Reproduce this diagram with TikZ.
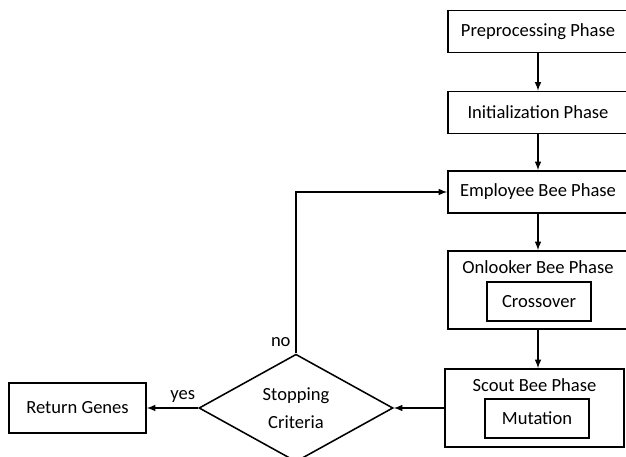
\documentclass[tikz,border=0pt]{standalone}
\usepackage{fontspec}
\setmainfont{Carlito}
\usetikzlibrary{shapes.geometric, arrows}
\tikzstyle{phase} = [rectangle, minimum width=4.5cm, minimum height=1.05cm, text centered, draw=black, line width=1.1pt]
\tikzstyle{bigphase} = [rectangle, minimum width=4.5cm, minimum height=1.95cm, draw=black, line width=1.1pt]
\tikzstyle{operator} = [rectangle, minimum width=2.6cm, minimum height=0.975cm, text centered, draw=black, line width=1.1pt]
\tikzstyle{decision} = [diamond, minimum width=4.85cm, minimum height=2.35cm, inner sep=0pt, align=center, draw=black, line width=1.1pt]
\tikzstyle{result} = [rectangle, minimum width=3.425cm, minimum height=1.25cm, text centered, draw=black, line width=1.1pt]
\tikzstyle{arrow} = [line width=1.1pt,->,>=latex]

\begin{document}
\begin{tikzpicture}[x=0.025cm, y=-0.025cm, font=\fontsize{13.2}{20}\selectfont]
    \useasboundingbox (0,0) rectangle (626,457);

    % Nodes
    \node (preproc) [phase] at (538,31.5) {Preprocessing Phase};
    \node (init) [phase] at (538,112.5) {Initialization Phase};
    \node (employee) [phase] at (538,192) {Employee Bee Phase};
    \node (onlooker) [bigphase] at (538,290) {};
    \node (onlookertitle) at (538,267) {Onlooker Bee Phase};
    \node (crossover) [operator] at (539,301.5) {Crossover};
    \node (scout) [bigphase, minimum width=4.475cm] at (534.5,408) {};
    \node (scouttitle) at (534.5,385) {Scout Bee Phase};
    \node (mutation) [operator] at (537,418.5) {Mutation};
    \node (stopping) [decision] at (296,408) {Stopping\\Criteria};
    \node (genes) [result] at (77.5,408) {Return Genes};

    % Arrows
    \draw [arrow] (preproc) -- (init);
    \draw [arrow] (init) -- (employee);
    \draw [arrow] (employee) -- (onlooker);
    \draw [arrow] (onlooker.south) -- (onlooker.south |- scout.north);
    \draw [arrow] (scout.west) -- (stopping.east);
    \draw [arrow] (stopping.west) -- node[pos=0.3, anchor=south] {yes} (genes.east);

    % Loop back when not done
    \draw [arrow] (stopping.north) |- node[pos=0.035, anchor=east] {no} (employee.west);
\end{tikzpicture}
\end{document}
